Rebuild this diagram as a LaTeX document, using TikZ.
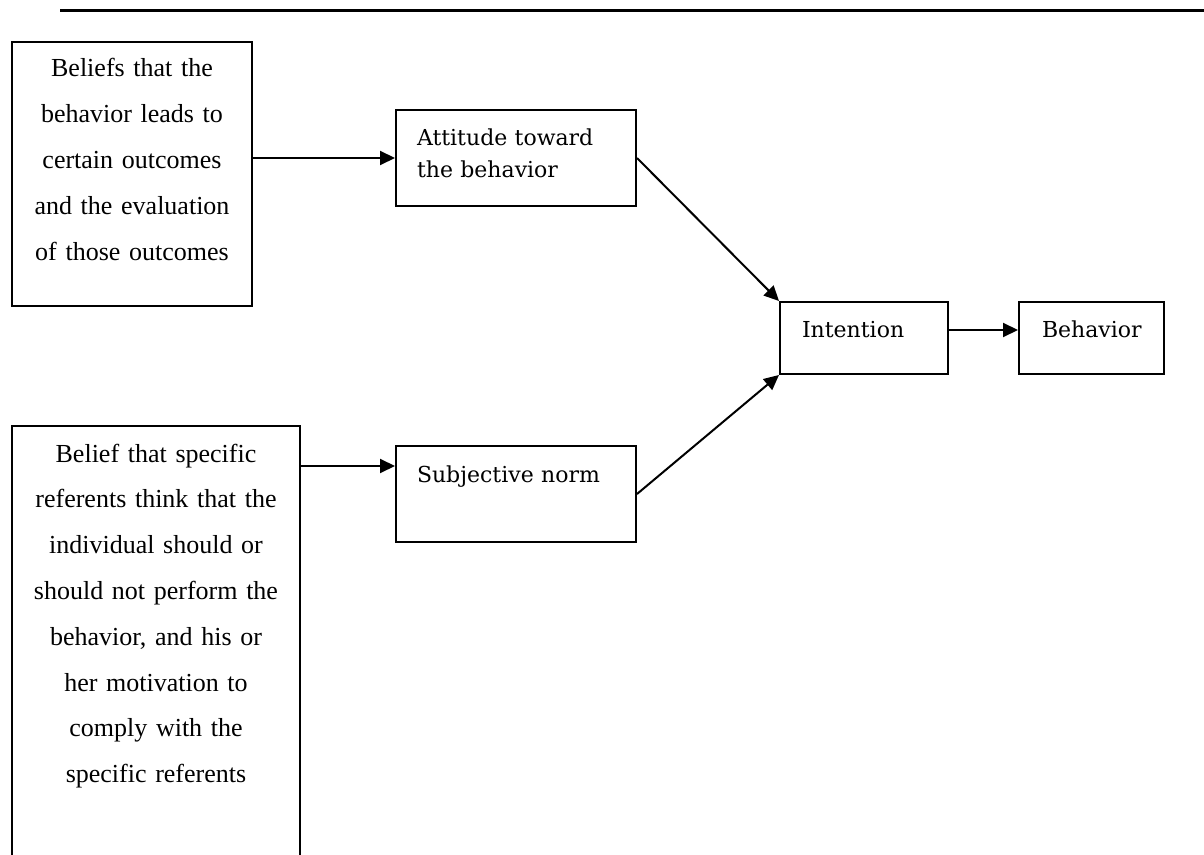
\documentclass[tikz,border=0pt]{standalone}
\usepackage{fontspec}
\setmainfont{Liberation Serif}
\newfontfamily\boxfont{DejaVu Serif}
\usepackage{tikz}
\usetikzlibrary{arrows.meta, positioning, calc}

\begin{document}
\begin{tikzpicture}[x=0.5pt, y=-0.5pt, >={Triangle[length=7.5pt,width=7pt]}, line width=1pt,
    box/.style={draw, rectangle, inner sep=0pt},
    bigtext/.style={inner sep=0pt, align=center, font=\fontsize{13pt}{22.9pt}\selectfont},
    smalltext/.style={inner sep=0pt, align=left, anchor=base west, font=\boxfont\fontsize{11pt}{16pt}\selectfont}]
      \useasboundingbox (0,0) rectangle (1204,855);
      % rule at the top of the page
      \draw[line width=1.5pt] (60,11) -- (1204,11);
      % boxes
      \node[box, minimum width=120pt, minimum height=132pt] (beliefs) at (132,174) {};
      \node[box, minimum width=144pt, minimum height=237pt] (referents) at (156,663) {};
      \node[box, minimum width=120pt, minimum height=48pt] (attitude) at (516,158) {};
      \node[box, minimum width=120pt, minimum height=48pt] (norm) at (516,494) {};
      \node[box, minimum width=84pt, minimum height=36pt] (intention) at (864,338) {};
      \node[box, minimum width=72.5pt, minimum height=36pt] (behavior) at (1091.5,338) {};
      % texts
      \node[bigtext, text width=115pt, anchor=base] (beliefstxt) at (132,77)
        {Beliefs that the\\ behavior leads to\\ certain outcomes\\ and the evaluation\\ of those outcomes};
      \node[bigtext, text width=140pt, anchor=base] (referentstxt) at (156,462)
        {Belief that specific\\ referents think that the\\ individual should or\\ should not perform the\\ behavior, and his or\\ her motivation to\\ comply with the\\ specific referents};
      \node[smalltext, text width=100pt] (attitudetxt) at (416,146) {Attitude toward\\ the behavior};
      \node[smalltext, text width=100pt] (normtxt) at (416,482) {Subjective norm};
      \node[smalltext] (intentiontxt) at (801,338) {Intention};
      \node[smalltext] (behaviortxt) at (1041,338) {Behavior};
      % arrows
      \draw[->] (beliefs.east |- attitude.west) -- (attitude.west);
      \draw[->] ($(referents.east |- norm.north)+(0,21)$) -- ($(norm.north west)+(0,21)$);
      \draw[->] (attitude.east) -- (intention.north west);
      \draw[->] (norm.east) -- (intention.south west);
      \draw[->] ($(intention.east)+(0,-8)$) -- ($(behavior.west)+(0,-8)$);
    \end{tikzpicture}
\end{document}
